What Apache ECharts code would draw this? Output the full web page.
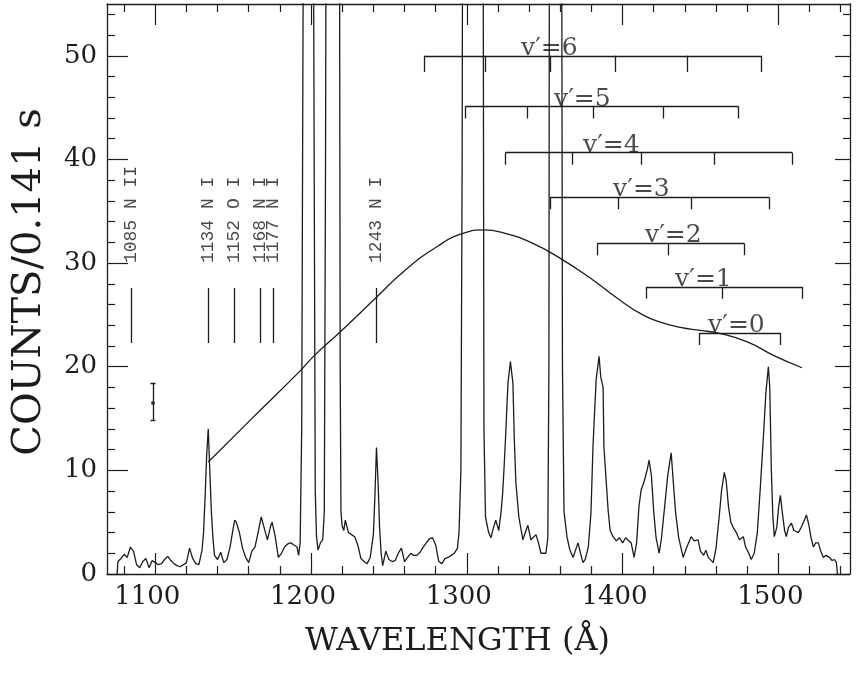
<!DOCTYPE html>
<html><head><meta charset="utf-8">
<script src="https://cdn.jsdelivr.net/npm/echarts@6/dist/echarts.min.js"></script>
<style>html,body{margin:0;padding:0;background:#fff}#c{width:856px;height:675px}</style>
</head><body><div id="c"></div>
<script>
// ---- spectrum (wavelength in Å, counts per 0.141 s) ----
const wave = [1075.5,1076,1078,1080,1082,1084,1086,1088,1090,1092,1094,1096,1098,1100,1102,1104,1106,1108,1110,1112,1114,1116,1118,1120,1122,1124,1126,1128,1130,1131,1132,1133,1134,1135,1136,1137,1138,1140,1142,1144,1146,1148,1150,1151,1152,1154,1156,1158,1160,1162,1164,1166,1168,1170,1172,1174,1175,1177,1179,1181,1183,1185,1187,1189,1191,1192,1193,1194,1195,1196,1201,1202,1202.7,1203.5,1204.5,1206,1207.5,1208.5,1209.3,1210,1218,1218.7,1219.2,1220,1221,1222,1224,1226,1228,1230,1232,1234,1236,1238,1240,1241,1242,1243,1244,1245,1246,1248,1250,1252,1254,1256,1258,1260,1262,1264,1266,1268,1270,1272,1274,1276,1278,1280,1282,1284,1286,1288,1290,1292,1294,1295,1296.2,1297,1297.6,1310.2,1311,1312,1314,1315.5,1317,1318.6,1320.5,1322,1323,1324,1325,1326.4,1328,1329.6,1330.5,1331.5,1333.4,1336,1338,1339.2,1341.2,1344.4,1346,1347.6,1350.8,1352,1352.7,1353.2,1360.6,1361.4,1362.4,1364.3,1366,1368.2,1370,1371.4,1373,1374.6,1376,1378,1379.7,1381,1383,1384.9,1386,1387.5,1388,1390.7,1392,1393.9,1396,1398,1400,1402,1404,1405.5,1407.4,1409,1410.5,1411.9,1414,1416,1417,1418.5,1420,1421.5,1423.5,1425,1427,1429,1430,1431.2,1432.5,1434,1436,1438.9,1441,1444,1446,1448.5,1450,1452,1453.5,1455,1458.2,1460,1462,1463.5,1465.3,1466.5,1468,1469.5,1471,1473,1475,1477.5,1479,1481,1482.6,1484.5,1486.5,1488.5,1490.5,1492,1493.6,1494.5,1495.5,1496.5,1497.4,1499,1500.2,1501.3,1502.5,1504,1505.1,1506.5,1508.4,1510,1512.9,1515,1517,1518,1519.5,1521,1522.5,1524,1525.7,1527,1528.9,1530.5,1532.8,1534.5,1536,1537.3,1537.9];
const counts = [0,1.2,1.5,1.9,1.6,2.6,2.2,0.9,0.6,1.2,1.5,0.6,1.3,1.1,0.9,1.0,1.4,1.7,1.3,1.0,0.8,0.7,0.9,1.1,2.5,1.5,1.0,0.9,2.3,4.0,7.5,11.5,14.0,10.0,6.0,3.5,1.8,1.4,2.1,1.1,1.4,2.6,4.4,5.2,5.0,4.0,2.5,1.6,1.1,2.2,2.6,4.0,5.5,4.4,3.3,4.6,5.0,3.6,1.6,2.0,2.6,2.9,3.0,2.8,2.6,1.8,3.0,14,60,90,90,40,8,3.6,2.3,3.0,3.3,6,40,90,90,20,6.0,4.6,4.2,5.2,4.0,3.8,3.6,2.8,1.5,1.2,1.0,1.6,3.8,7.5,12.2,9.0,4.5,2.0,0.8,2.2,1.4,1.2,1.3,2.0,2.5,1.2,1.6,2.0,1.8,1.8,2.1,2.6,3.0,3.4,3.5,2.8,1.2,1.0,1.5,1.6,1.8,2.0,2.5,4.0,10,40,90,90,14,5.5,4.0,3.5,4.4,5.2,4.2,6.0,7.8,10.5,13.6,18.4,20.5,18.4,13,8.8,5.5,3.3,4.2,4.7,3.3,3.8,3.0,2.0,2.0,3.5,20,90,90,20,6.0,3.6,2.4,1.6,2.4,3.0,2.0,1.1,1.4,2.6,5.9,12.3,18.7,21.0,19,18.0,12.3,6.2,4.2,3.6,3.2,3.5,3.0,3.5,3.2,3.0,1.6,3.0,6.5,8.1,9.0,10.2,11.0,9.5,6.0,3.5,2.0,3.5,6.5,9.5,10.5,11.7,9.0,6.0,3.5,1.6,2.5,3.6,3.2,3.3,2.2,1.8,2.3,1.6,1.1,2.5,5.5,8.0,9.8,9.0,6.5,5.0,4.5,4.0,3.3,3.6,2.6,2.0,1.4,2.0,4.0,8.5,13.5,17.5,20.0,18,10,5.5,3.6,4.5,6.5,7.6,6.0,4.2,3.6,4.5,4.9,4.2,4.0,4.6,5.3,5.7,4.8,3.5,2.6,3.0,3.0,2.3,1.6,1.8,1.6,1.3,1.4,1.1,0];

// ---- smooth continuum curve ----
const contWave   = [1134,1160,1193,1201.6,1219,1242,1259.5,1281,1298,1311,1324,1341,1358.5,1381.2,1396.6,1413,1424.2,1437.1,1449.9,1462.8,1480.1,1496.8,1515.2];
const contCounts = [10.8,14.7,19.6,21.0,23.4,26.7,29.2,31.6,32.9,33.2,32.9,32.0,30.6,28.35,26.6,25.0,24.3,23.8,23.5,23.2,22.4,21.1,19.9];

// ---- line identifications ----
const idWave   = [1084.6,1134,1150.8,1167.4,1175.8,1242];
const idLabels = ['1085 N II','1134 N I','1152 O I','1168 N I','1177 N I','1243 N I'];

// ---- N2 LBH band progressions ----
const bandLabels = ['v′=0','v′=1','v′=2','v′=3','v′=4','v′=5','v′=6'];
const bandLevel  = [23.25,27.7,31.9,36.35,40.65,45.1,50.0];
const bandHeads  = [
  [1449.3,1501.3],
  [1415.2,1464.0,1515.4],
  [1383.8,1429.4,1478.2],
  [1353.6,1397.3,1444.1,1494.0],
  [1324.7,1367.7,1412.0,1458.9,1509.0],
  [1299.0,1338.8,1381.2,1426.2,1474.3],
  [1272.7,1311.9,1353.6,1395.3,1441.6,1489.1]
];
const bandLabelWave = [1473.1,1451.9,1432.6,1412.1,1392.8,1374.2,1353.0];

// ---- representative error bar ----
const errWave = 1098.5, errMid = 16.5, errLow = 14.8, errHigh = 18.4;

// ---- axis ticks ----
const xMajor = [1100,1200,1300,1400,1500];
const xMinor = [1080,1120,1140,1160,1180,1220,1240,1260,1280,1320,1340,1360,1380,1420,1440,1460,1480,1520,1540];
const yMajor = [0,10,20,30,40,50];
const yMinor = [2,4,6,8,12,14,16,18,22,24,26,28,32,34,36,38,42,44,46,48,52,54];

const INK = '#1c1c1c';
const SERIF = 'DejaVu Serif';
const XMIN = 1069, XMAX = 1546, YMIN = 0, YMAX = 55;

const segs = [];
idWave.forEach(w => segs.push({coords: [[w, 22.3], [w, 27.6]]}));
bandHeads.forEach((heads, i) => {
  const y = bandLevel[i];
  const d = i === 6 ? 1.55 : 1.15;
  segs.push({coords: [[heads[0], y], [heads[heads.length - 1], y]]});
  heads.forEach(h => segs.push({coords: [[h, y], [h, y - d]]}));
});
segs.push({coords: [[errWave, errLow], [errWave, errHigh]]});
segs.push({coords: [[errWave - 1.6, errLow], [errWave + 1.6, errLow]]});
segs.push({coords: [[errWave - 1.6, errHigh], [errWave + 1.6, errHigh]]});

function xAx(pos, ticks, len, lineShow, labels) {
  return {
    type: 'value', min: XMIN, max: XMAX, position: pos,
    axisLine: {show: lineShow, onZero: false, lineStyle: {color: INK, width: 1.3}},
    axisTick: {show: true, inside: true, length: len, customValues: ticks, lineStyle: {color: INK, width: 1.2}},
    axisLabel: labels ? {show: true, customValues: xMajor, formatter: v => String(v), margin: 10, color: INK, fontFamily: SERIF, fontSize: 26, padding: [0, 16, 0, 0]} : {show: false},
    splitLine: {show: false}
  };
}
function yAx(pos, ticks, len, lineShow, labels) {
  return {
    type: 'value', min: YMIN, max: YMAX, position: pos,
    axisLine: {show: lineShow, onZero: false, lineStyle: {color: INK, width: 1.3}},
    axisTick: {show: true, inside: true, length: len, customValues: ticks, lineStyle: {color: INK, width: 1.2}},
    axisLabel: labels ? {show: true, customValues: yMajor, formatter: v => String(v), margin: 10, color: INK, fontFamily: SERIF, fontSize: 26} : {show: false},
    splitLine: {show: false}
  };
}

const xa0 = xAx('bottom', xMajor, 21, true, true);
xa0.name = 'WAVELENGTH (Å)';
xa0.nameLocation = 'middle';
xa0.nameGap = 52;
xa0.nameTextStyle = {fontFamily: SERIF, fontSize: 32, color: INK, padding: [0, 42, 0, 0]};
const ya0 = yAx('left', yMajor, 21, true, true);
ya0.name = 'COUNTS/0.141 s';
ya0.nameLocation = 'middle';
ya0.nameGap = 57;
ya0.nameTextStyle = {fontFamily: SERIF, fontSize: 40, color: INK, padding: [0, 0, 0, 14]};

const chart = echarts.init(document.getElementById('c'), null, {renderer: 'canvas'});
chart.setOption({
  animation: false,
  backgroundColor: '#fff',
  grid: {left: 107, right: 6, top: 4, bottom: 101, containLabel: false},
  xAxis: [xa0, xAx('bottom', xMinor, 8, false, false), xAx('top', xMajor, 21, true, false), xAx('top', xMinor, 8, false, false)],
  yAxis: [ya0, yAx('left', yMinor, 8, false, false), yAx('right', yMajor, 15, true, false), yAx('right', yMinor, 7, false, false)],
  series: [
    {
      type: 'line', xAxisIndex: 0, yAxisIndex: 0, symbol: 'none', clip: true,
      data: wave.map((w, i) => [w, counts[i]]),
      lineStyle: {color: INK, width: 1.3}
    },
    {
      type: 'line', xAxisIndex: 0, yAxisIndex: 0, symbol: 'none', smooth: 0.5, clip: true,
      data: contWave.map((w, i) => [w, contCounts[i]]),
      lineStyle: {color: INK, width: 1.3}
    },
    {
      type: 'lines', coordinateSystem: 'cartesian2d', xAxisIndex: 0, yAxisIndex: 0,
      data: segs, lineStyle: {color: INK, width: 1.3, opacity: 1}, silent: true
    },
    {
      type: 'scatter', xAxisIndex: 0, yAxisIndex: 0, symbol: 'circle', symbolSize: 4,
      itemStyle: {color: INK}, data: [[errWave, errMid]], silent: true
    },
    {
      type: 'scatter', xAxisIndex: 0, yAxisIndex: 0, symbolSize: 0, silent: true,
      data: idWave.map((w, i) => ({value: [w, 30.0], name: idLabels[i]})),
      label: {show: true, position: 'inside', formatter: '{b}', rotate: 90, align: 'left', verticalAlign: 'middle',
              fontFamily: 'Liberation Mono', fontSize: 18, color: INK}
    },
    {
      type: 'scatter', xAxisIndex: 0, yAxisIndex: 0, symbolSize: 0, silent: true,
      data: bandLabelWave.map((w, i) => ({value: [w, bandLevel[i]], name: bandLabels[i]})),
      label: {show: true, position: 'inside', formatter: '{b}', align: 'center', verticalAlign: 'bottom', offset: [0, 5],
              fontFamily: SERIF, fontSize: 25, color: INK}
    }
  ]
});
</script>
</body></html>
